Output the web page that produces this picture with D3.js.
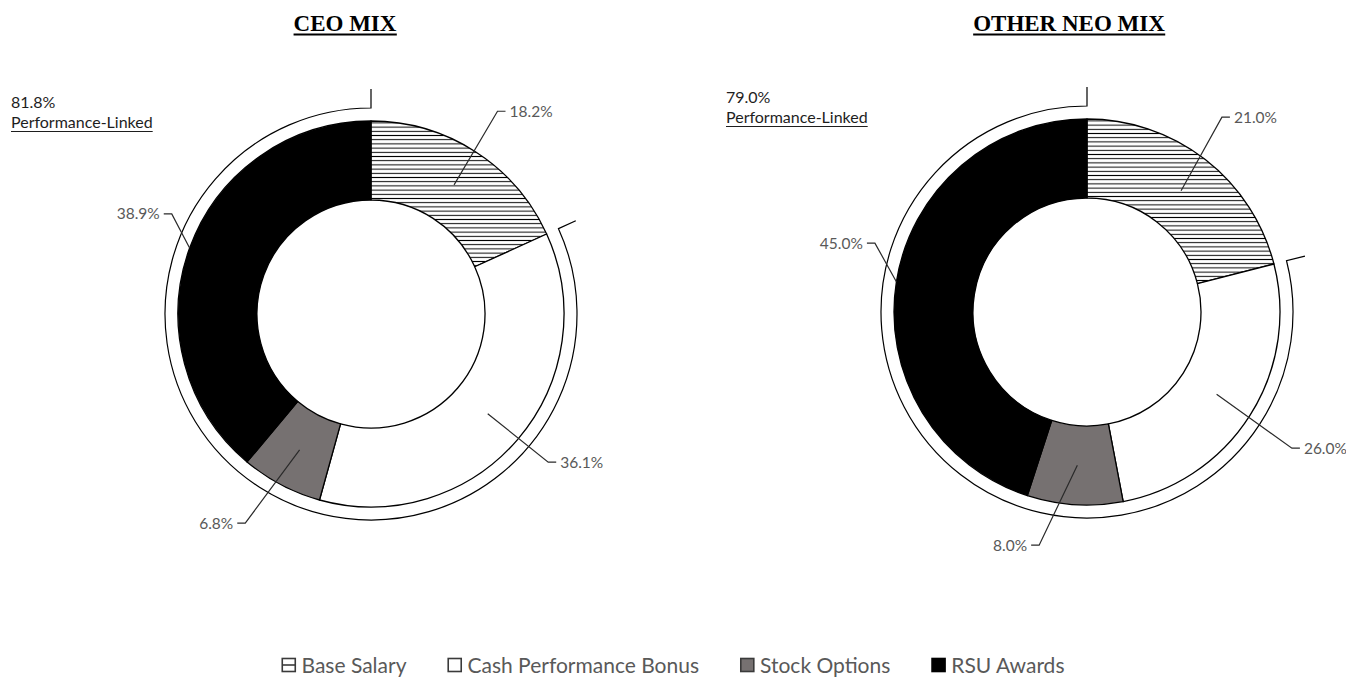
<!DOCTYPE html>
<html>
<head>
<meta charset="utf-8">
<script src="https://cdn.jsdelivr.net/npm/d3@7"></script>
<style>
  html, body { margin: 0; padding: 0; background: #fff; }
  svg { display: block; }
</style>
</head>
<body>
<svg id="chart" width="1346" height="679"></svg>
<script>
// Pay mix data (percent of target compensation)
const categories = ["Base Salary", "Cash Performance Bonus", "Stock Options", "RSU Awards"];
const ceoValues = [18.2, 36.1, 6.8, 38.9];
const neoValues = [21.0, 26.0, 8.0, 45.0];
const chartTitles = ["CEO MIX", "OTHER NEO MIX"];
const bracketLabel = "Performance-Linked";

const svg = d3.select("#chart");
const W = 1346, H = 679;

// Hatched fill for base salary
const defs = svg.append("defs");
const pat = defs.append("pattern")
  .attr("id", "hatch")
  .attr("patternUnits", "userSpaceOnUse")
  .attr("width", 10).attr("height", 4.2);
pat.append("rect").attr("width", 10).attr("height", 4.2).attr("fill", "#fff");
pat.append("line").attr("x1", 0).attr("x2", 10).attr("y1", 2.1).attr("y2", 2.1)
  .attr("stroke", "#000").attr("stroke-width", 1);

const fills = d3.scaleOrdinal()
  .domain(categories)
  .range(["url(#hatch)", "#ffffff", "#767171", "#000000"]);

const labelFont = "Lato, 'Open Sans', sans-serif";

const charts = [
  { title: chartTitles[0], values: ceoValues, cx: 371, cy: 314, titleX: 345,
    noteX: 11, noteY: 108,
    lab: [{r: 239, n: -0.8}, {r: 231, n: -0.6}, {r: 244, n: 3.3}, {r: 223, n: 6.7}] },
  { title: chartTitles[1], values: neoValues, cx: 1087, cy: 312, titleX: 1069,
    noteX: 726, noteY: 103,
    lab: [{r: 237, n: -3.1}, {r: 246, n: 1.2}, {r: 238, n: 8.0}, {r: 223, n: 9.0}] }
];

const rInner = 114, rOuter = 193, rBracket = 206, tickLen = 19;

const pie = d3.pie().sort(null).value(d => d.value);
const arc = d3.arc().innerRadius(rInner).outerRadius(rOuter);

function polar(cx, cy, r, a) {
  return [cx + r * Math.sin(a), cy - r * Math.cos(a)];
}

charts.forEach(c => {
  const data = categories.map((k, i) => ({ key: k, value: c.values[i] }));
  const arcs = pie(data);
  const g = svg.append("g");

  // Title
  const t = g.append("text")
    .attr("x", c.titleX).attr("y", 31)
    .attr("text-anchor", "middle")
    .attr("font-family", "'Liberation Serif', 'Times New Roman', serif")
    .attr("font-weight", "bold")
    .attr("font-size", 23)
    .attr("fill", "#000")
    .text(c.title);
  const tb = t.node().getBBox();
  g.append("line")
    .attr("x1", tb.x).attr("x2", tb.x + tb.width)
    .attr("y1", 34.5).attr("y2", 34.5)
    .attr("stroke", "#000").attr("stroke-width", 2);

  // Donut slices
  const ring = g.append("g").attr("transform", `translate(${c.cx},${c.cy})`);
  ring.selectAll("path.slice")
    .data(arcs)
    .join("path")
    .attr("class", "slice")
    .attr("d", arc)
    .attr("fill", d => fills(d.data.key))
    .attr("stroke", "#000")
    .attr("stroke-width", 1.3)
    .attr("stroke-linejoin", "round");

  // Bracket around performance-linked pay (everything after base salary)
  const a0 = arcs[0].endAngle, a1 = 2 * Math.PI;
  const p = d3.path();
  const s0 = polar(c.cx, c.cy, rBracket + tickLen, a0);
  const s1 = polar(c.cx, c.cy, rBracket, a0);
  p.moveTo(s0[0], s0[1]);
  p.lineTo(s1[0], s1[1]);
  p.arc(c.cx, c.cy, rBracket, a0 - Math.PI / 2, a1 - Math.PI / 2, false);
  const e1 = polar(c.cx, c.cy, rBracket + tickLen, a1);
  p.lineTo(e1[0], e1[1]);
  g.append("path")
    .attr("d", p.toString())
    .attr("fill", "none")
    .attr("stroke", "#000")
    .attr("stroke-width", 1.2);

  // Performance-linked note
  const perf = d3.sum(c.values.slice(1));
  g.append("text")
    .attr("x", c.noteX).attr("y", c.noteY)
    .attr("font-family", labelFont).attr("font-size", 16)
    .attr("fill", "#1e1e1e")
    .text(d3.format(".1f")(perf) + "%");
  const nt = g.append("text")
    .attr("x", c.noteX).attr("y", c.noteY + 20)
    .attr("font-family", labelFont).attr("font-size", 16)
    .attr("fill", "#1e1e1e")
    .text(bracketLabel);
  const nb = nt.node().getBBox();
  g.append("line")
    .attr("x1", nb.x).attr("x2", nb.x + nb.width)
    .attr("y1", c.noteY + 23.5).attr("y2", c.noteY + 23.5)
    .attr("stroke", "#1e1e1e").attr("stroke-width", 1);

  // Data labels with leader lines
  arcs.forEach((d, i) => {
    const mid = (d.startAngle + d.endAngle) / 2;
    const L = c.lab[i];
    const dark = fills(d.data.key) === "#000000";
    const start = polar(c.cx, c.cy, dark ? rOuter : (rInner + rOuter) / 2, mid);
    const elbow = polar(c.cx, c.cy, L.r, mid + L.n * Math.PI / 180);
    const right = elbow[0] > c.cx;
    const tail = [elbow[0] + (right ? 8 : -8), elbow[1]];
    g.append("polyline")
      .attr("points", [start, elbow, tail].map(q => q.join(",")).join(" "))
      .attr("fill", "none")
      .attr("stroke", "#2a2a2a")
      .attr("stroke-width", 1.2);
    g.append("text")
      .attr("x", tail[0] + (right ? 4 : -4))
      .attr("y", elbow[1])
      .attr("dy", "0.35em")
      .attr("text-anchor", right ? "start" : "end")
      .attr("font-family", labelFont).attr("font-size", 15.5)
      .attr("fill", "#595959")
      .text(d3.format(".1f")(d.value) + "%");
  });
});

// Legend
const legend = svg.append("g");
const legY = 665;
const gap = 41;
let x = 0;
categories.forEach((k, i) => {
  const item = legend.append("g");
  const box = 13;
  item.append("rect")
    .attr("x", x + 0.75).attr("y", legY - box / 2)
    .attr("width", box).attr("height", box)
    .attr("fill", i === 0 ? "#fff" : fills(k))
    .attr("stroke", i === 3 ? "#000" : "#3a3a3a")
    .attr("stroke-width", 1.6);
  if (i === 0) {
    item.append("line")
      .attr("x1", x + 0.75).attr("x2", x + 0.75 + box)
      .attr("y1", legY).attr("y2", legY)
      .attr("stroke", "#3a3a3a").attr("stroke-width", 1.6);
  }
  const tx = item.append("text")
    .attr("x", x + box + 7).attr("y", legY)
    .attr("dy", "0.36em")
    .attr("font-family", labelFont).attr("font-size", 21)
    .attr("fill", "#595959")
    .text(k);
  const w = tx.node().getComputedTextLength();
  x += box + 7 + w + gap;
});
const total = x - gap;
legend.attr("transform", `translate(${(W - total) / 2},0)`);
</script>
</body>
</html>
